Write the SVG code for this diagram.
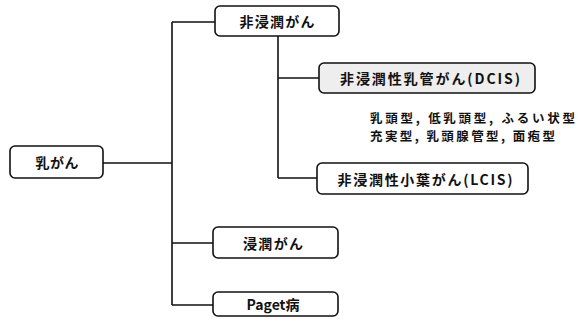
<svg xmlns="http://www.w3.org/2000/svg" width="578" height="327" viewBox="0 0 578 327">
<style>
.box{fill:#fff;stroke:#111;stroke-width:1.6}
.shade{fill:#eeeeee;stroke:#111;stroke-width:1.6}
.t{font-family:"Noto Sans CJK JP","Noto Sans",sans-serif;font-size:14px;font-weight:bold;fill:#111;text-anchor:middle;dominant-baseline:central}
.n{font-family:"Noto Sans CJK JP","Noto Sans",sans-serif;font-size:12.5px;font-weight:bold;fill:#111}
.c{fill:none;stroke:#111;stroke-width:1.6}
</style>
<rect width="578" height="327" fill="#fff"/>
<g id="connectors">
<path class="c" d="M103 163 H172 M172 22 V305 M172 22 H215 M172 243 H213 M172 305 H213"/>
<path class="c" d="M278 35 V178 M278 78 H319 M278 178 H317"/>
</g>
<g id="root">
<rect class="box" x="10" y="146" width="93" height="32" rx="5"/>
<text class="t" x="57" y="162" textLength="43">乳がん</text>
</g>
<g id="noninvasive">
<rect class="box" x="215" y="6" width="124" height="30" rx="5"/>
<text class="t" x="277" y="21" textLength="75">非浸潤がん</text>
</g>
<g id="dcis">
<rect class="shade" x="319" y="63" width="216" height="30" rx="5"/>
<text class="t" x="430" y="78" textLength="180">非浸潤性乳管がん(DCIS)</text>
</g>
<g id="dcis-notes">
<text class="n" x="370" y="117" dominant-baseline="central" textLength="205">乳頭型, 低乳頭型, ふるい状型</text>
<text class="n" x="370" y="135" dominant-baseline="central" textLength="185">充実型, 乳頭腺管型, 面疱型</text>
</g>
<g id="lcis">
<rect class="box" x="317" y="163" width="211" height="31" rx="5"/>
<text class="t" x="425" y="178.5" textLength="175">非浸潤性小葉がん(LCIS)</text>
</g>
<g id="invasive">
<rect class="box" x="213" y="227" width="125" height="31" rx="5"/>
<text class="t" x="273" y="242.5" textLength="60">浸潤がん</text>
</g>
<g id="paget">
<rect class="box" x="213" y="292" width="125" height="24" rx="5"/>
<text class="t" x="273" y="304" textLength="53">Paget病</text>
</g>
</svg>
